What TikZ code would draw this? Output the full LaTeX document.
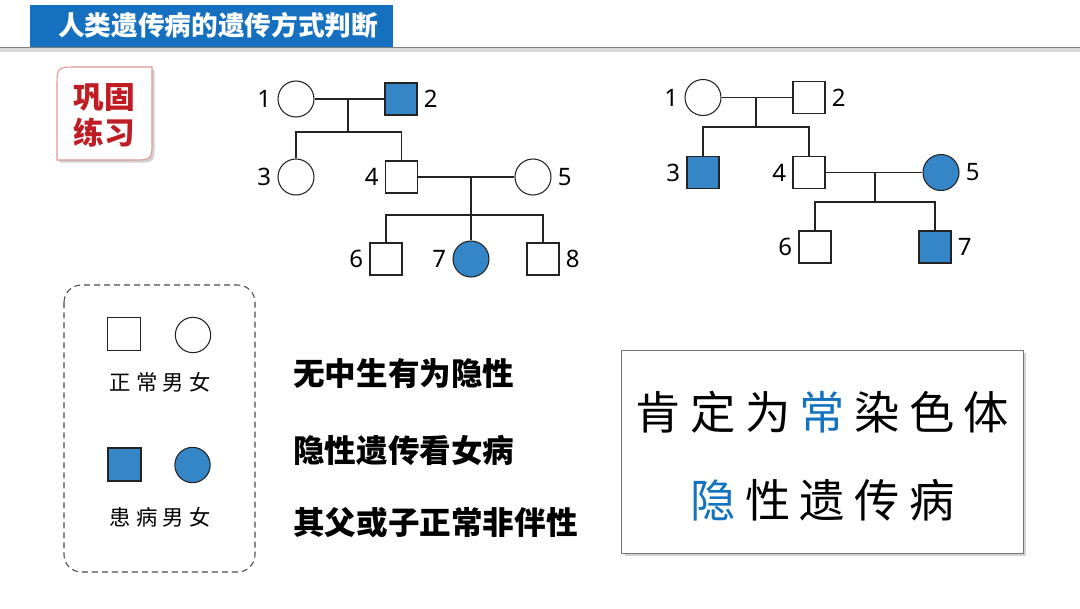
\documentclass[tikz,border=0pt]{standalone}
\usepackage{fontspec}
\usetikzlibrary{shadows}
\newfontfamily\cjk{Noto Sans CJK SC}
\newfontfamily\numfont{Noto Sans}
\definecolor{titleblue}{RGB}{22,112,192}
\definecolor{dis}{RGB}{52,134,199}
\definecolor{hiblue}{RGB}{20,115,192}
\definecolor{ggred}{RGB}{192,28,36}
\definecolor{ggedge}{RGB}{225,150,150}
\definecolor{ink}{RGB}{35,35,35}
\newcommand{\cgap}{\hspace{7pt}}
\newcommand{\lgap}{\hspace{4pt}}
\begin{document}
\begin{tikzpicture}[x=0.75pt,y=-0.75pt,
  male/.style={draw=ink, line width=0.8pt, rectangle, minimum size=24pt, inner sep=0pt, fill=white},
  female/.style={draw=ink, line width=0.8pt, circle, minimum size=27pt, inner sep=0pt, fill=white},
  aff/.style={fill=dis},
  num/.style={font=\numfont\fontsize{18}{20}\selectfont, inner sep=1pt, label distance=3.5pt},
  conn/.style={draw=ink, line width=0.8pt},
  rule/.style={font=\cjk\bfseries\fontsize{23.7}{26}\selectfont, anchor=west, inner sep=0pt},
  legtext/.style={font=\cjk\fontsize{16}{18}\selectfont, inner sep=0pt},
  concl/.style={font=\cjk\fontsize{34}{36}\selectfont, inner sep=0pt}
]
\useasboundingbox (0,0) rectangle (1080,608);
\fill[white] (0,0) rectangle (1080,608);

% title bar
\draw[black!15, line width=2.5pt] (0,50) -- (1080,50);
\draw[black!50, line width=1.4pt] (0,47.5) -- (1080,47.5);
\node[fill=titleblue, minimum width=272.5pt, minimum height=31.2pt, inner sep=0pt] (tb) at (211.3,25.8) {};
\node[font=\cjk\bfseries\fontsize{20}{22}\selectfont, text=white, inner sep=0pt] (title) at (218,25.5) {人类遗传病的遗传方式判断};

% exercise badge
\draw[ggedge, line width=0.8pt, fill=white, drop shadow={shadow xshift=2pt, shadow yshift=-2pt, opacity=0.35}]
  (57,160) -- (57,87) .. controls (57,67) .. (77,67) -- (152,67) -- (152,140) .. controls (152,160) .. (132,160) -- cycle;
\node[font=\cjk\bfseries\fontsize{23}{27}\selectfont, text=ggred, align=center, inner sep=0pt] (gg) at (104,115) {巩固\\练习};

% pedigree 1
\node[female, label={[num]left:1}] (a1) at (296,99) {};
\node[male, aff, label={[num]right:2}] (a2) at (401,99) {};
\node[female, label={[num]left:3}] (a3) at (296,177) {};
\node[male, label={[num]left:4}] (a4) at (401.5,177) {};
\node[female, label={[num]right:5}] (a5) at (533,177) {};
\node[male, label={[num]left:6}] (a6) at (386,259) {};
\node[female, aff, label={[num]left:7}] (a7) at (471,259) {};
\node[male, label={[num]right:8}] (a8) at (543,259) {};
\coordinate (am1) at (348,99);
\coordinate (as1) at (348,132);
\coordinate (am2) at (471,177);
\coordinate (as2) at (471,215);
\draw[conn] (a1) -- (a2);
\draw[conn] (am1) -- (as1);
\draw[conn] (a3.north) -- (a3.north |- as1) -- (a4.north |- as1) -- (a4.north);
\draw[conn] (a4) -- (a5);
\draw[conn] (am2) -- (a7.north);
\draw[conn] (a6.north) -- (a6.north |- as2) -- (a8.north |- as2) -- (a8.north);

% pedigree 2
\node[female, label={[num]left:1}] (b1) at (703,97.5) {};
\node[male, label={[num]right:2}] (b2) at (809,97.5) {};
\node[male, aff, label={[num]left:3}] (b3) at (703,172.5) {};
\node[male, label={[num]left:4}] (b4) at (809,172.5) {};
\node[female, aff, label={[num]right:5}] (b5) at (941,172.5) {};
\node[male, label={[num]left:6}] (b6) at (815,247) {};
\node[male, aff, label={[num]right:7}] (b7) at (935,247) {};
\coordinate (bm1) at (756,97.5);
\coordinate (bs1) at (756,127);
\coordinate (bm2) at (875,172.5);
\coordinate (bs2) at (875,202);
\draw[conn] (b1) -- (b2);
\draw[conn] (bm1) -- (bs1);
\draw[conn] (b3.north) -- (b3.north |- bs1) -- (b4.north |- bs1) -- (b4.north);
\draw[conn] (b4) -- (b5);
\draw[conn] (bm2) -- (bs2);
\draw[conn] (b6.north) -- (b6.north |- bs2) -- (b7.north |- bs2) -- (b7.north);

% legend
\draw[black!70, line width=0.8pt, dash pattern=on 4.5pt off 3pt, rounded corners=13pt] (64,285) rectangle (255,572);
\node[male, minimum size=24.75pt] (lm) at (124,334) {};
\node[female, minimum size=26.5pt] (lf) at (193,335) {};
\node[legtext] (lt1) at (160,382) {正\lgap 常\lgap 男\lgap 女};
\node[male, aff, minimum size=24.75pt] (lma) at (124.5,464.5) {};
\node[female, aff, minimum size=26.5pt] (lfa) at (192.5,465) {};
\node[legtext] (lt2) at (160,517) {患\lgap 病\lgap 男\lgap 女};

% rules
\node[rule] (r1) at (293,373) {无中生有为隐性};
\node[rule] (r2) at (293,450) {隐性遗传看女病};
\node[rule] (r3) at (293,523) {其父或子正常非伴性};

% conclusion
\node[draw=black!55, line width=0.8pt, fill=white, minimum width=301pt, minimum height=152.5pt, inner sep=0pt,
  drop shadow={shadow xshift=2pt, shadow yshift=-2pt, opacity=0.35}] (cb) at (822.5,451.7) {};
\node[concl] (c1) at (822.5,412) {肯\cgap 定\cgap 为\cgap \textcolor{hiblue}{常}\cgap 染\cgap 色\cgap 体};
\node[concl] (c2) at (822.5,500) {\textcolor{hiblue}{隐}\cgap 性\cgap 遗\cgap 传\cgap 病};
\end{tikzpicture}
\end{document}
